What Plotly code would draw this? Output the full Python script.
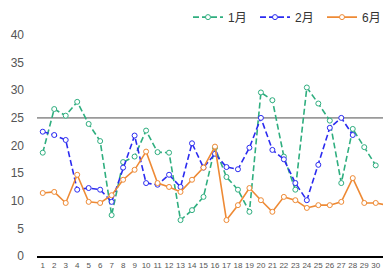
import plotly.graph_objects as go

days = list(range(1, 32))
jan = [18.7, 26.6, 25.4, 27.9, 23.9, 20.8, 7.4, 17.0, 18.0, 22.7,
       18.8, 18.7, 6.5, 8.3, 10.7, 19.6, 14.3, 12.0, 8.0, 29.6,
       28.2, 18.0, 12.0, 30.5, 27.6, 24.5, 13.2, 23.0, 19.7, 16.4, None]
feb = [22.5, 21.9, 21.0, 12.0, 12.3, 12.0, 9.8, 16.0, 21.8, 13.2,
       12.9, 14.7, 12.5, 20.4, 16.0, 18.5, 16.1, 15.7, 19.6, 25.0,
       19.2, 17.5, 13.2, 10.1, 16.5, 23.2, 25.0, 21.9, None, None, None]
jun = [11.4, 11.6, 9.6, 14.7, 9.8, 9.6, 11.0, 13.8, 15.6, 18.9,
       13.2, 12.5, 11.6, 13.8, 16.0, 19.8, 6.5, 9.2, 12.3, 10.1,
       8.0, 10.7, 10.1, 8.7, 9.2, 9.2, 9.8, 14.1, 9.6, 9.6, 9.2]
names = ["1月", "2月", "6月"]
ref_value = 25
y_ticks = [0, 5, 10, 15, 20, 25, 30, 35, 40]

colors = ["#2fae7f", "#2b2bf0", "#ee8a35"]
dashes = ["6px,3px", "6px,3px", "solid"]

fig = go.Figure()
for vals, name, c, d in zip([jan, feb, jun], names, colors, dashes):
    fig.add_trace(go.Scatter(
        x=days, y=vals, name=name, mode="lines+markers",
        line=dict(color=c, width=1.6, dash=d),
        marker=dict(symbol="circle", size=5, color="white", line=dict(color=c, width=1)),
        connectgaps=False,
    ))

fig.add_hline(y=ref_value, line=dict(color="#9a9a9a", width=1.6), layer="below")

fig.update_layout(
    width=383, height=268,
    margin=dict(l=28.5, r=0, t=27, b=20, autoexpand=False),
    paper_bgcolor="white", plot_bgcolor="white",
    font=dict(family="Liberation Sans, Noto Sans CJK SC", color="#555555"),
    showlegend=True,
    legend=dict(orientation="h", xref="container", yref="container",
                x=0.47, xanchor="left", y=0.966, yanchor="middle",
                font=dict(size=12, color="#333333"), itemwidth=30,
                entrywidth=22, entrywidthmode="pixels",
                bgcolor="rgba(0,0,0,0)", tracegroupgap=0),
)
fig.update_xaxes(
    range=[0.5, 31.33], tickmode="array", tickvals=days, ticktext=[str(d) for d in days],
    showgrid=False, zeroline=False, showline=True, linecolor="black", linewidth=2,
    tickfont=dict(size=8, color="#555555"), ticks="", tickangle=0, ticklabelstandoff=0,
    automargin=False,
)
fig.update_yaxes(
    range=[0, 40], tickmode="array", tickvals=y_ticks,
    showgrid=False, zeroline=False, showline=False,
    tickfont=dict(size=12, color="#555555"), ticklabelstandoff=12,
    automargin=False,
)

fig.write_html("out.html")
